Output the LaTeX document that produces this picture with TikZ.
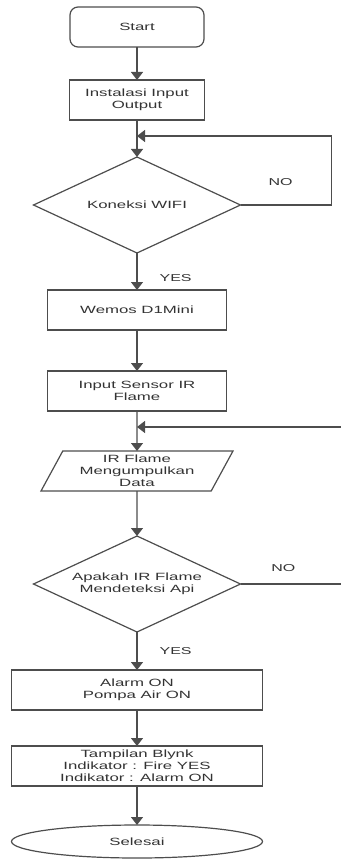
\documentclass[tikz,border=0pt]{standalone}
\usepackage{fontspec}
\setmainfont{Liberation Sans}[FakeStretch=1.6]
\usepackage{xcolor}
\usepackage{tikz}
\usetikzlibrary{arrows.meta,positioning,shapes.geometric}
\definecolor{lineg}{HTML}{4D4D4D}
\definecolor{txtg}{HTML}{333333}

\begin{document}
\begin{tikzpicture}[
  box/.style={draw=lineg, line width=1.2pt, minimum height=40pt, align=center, inner sep=0pt, outer sep=0pt, text=txtg, font=\fontsize{10.5}{12}\selectfont},
  term/.style={box, rounded corners=8pt, minimum width=134pt},
  dec/.style={box, diamond, aspect=2.16, minimum width=207pt, minimum height=96pt},
  io/.style={box, trapezium, trapezium left angle=62, trapezium right angle=118, trapezium stretches=true, minimum width=192pt},
  endterm/.style={box, ellipse, minimum width=251pt, minimum height=33pt},
  arrow/.style={draw=lineg, line width=1.2pt, -{Triangle[length=8pt,width=12pt]}},
  lbl/.style={font=\fontsize{10}{12}\selectfont, text=txtg, inner sep=0pt},
]
\useasboundingbox (-137pt,27pt) rectangle (203pt,-834pt);

\node[term] (start) at (0,0) {Start};
\node[box, minimum width=135pt, below=33pt of start] (instal) {Instalasi Input\\Output};
\node[dec, below=37pt of instal] (wifi) {Koneksi WIFI};
\node[box, minimum width=179pt, below=37pt of wifi] (wemos) {Wemos D1Mini};
\node[box, minimum width=179pt, below=41pt of wemos] (sensor) {Input Sensor IR\\Flame};
\node[io, below=40pt of sensor] (baca) {IR Flame\\Mengumpulkan\\Data};
\node[dec, below=45pt of baca] (deteksi) {Apakah IR Flame\\Mendeteksi Api};
\node[box, minimum width=251pt, below=38pt of deteksi] (alarm) {Alarm ON\\Pompa Air ON};
\node[box, minimum width=251pt, below=36pt of alarm] (blynk) {Tampilan Blynk\\Indikator : Fire YES\\Indikator : Alarm ON};
\node[endterm, below=39pt of blynk] (selesai) {Selesai};

\coordinate[below=16pt of instal] (joinA);
\coordinate[below=16pt of sensor] (joinB);

\draw[arrow] (start) -- (instal);
\draw[arrow] (instal) -- (wifi);
\draw[arrow] (wifi.east) -- node[pos=0.44, above=19pt, lbl] {NO} ++(91pt,0) |- (joinA);
\draw[arrow] (wifi) -- node[pos=0.68, right=22pt, lbl] {YES} (wemos);
\draw[arrow] (wemos) -- (sensor);
\draw[arrow] (sensor) -- (baca);
\draw[arrow] (baca) -- (deteksi);
\draw[arrow] (deteksi.east) -- node[pos=0.42, above=12pt, lbl] {NO} ++(102pt,0) |- (joinB);
\draw[arrow] (deteksi) -- node[midway, right=22pt, lbl] {YES} (alarm);
\draw[arrow] (alarm) -- (blynk);
\draw[arrow] (blynk) -- (selesai);

\end{tikzpicture}
\end{document}
